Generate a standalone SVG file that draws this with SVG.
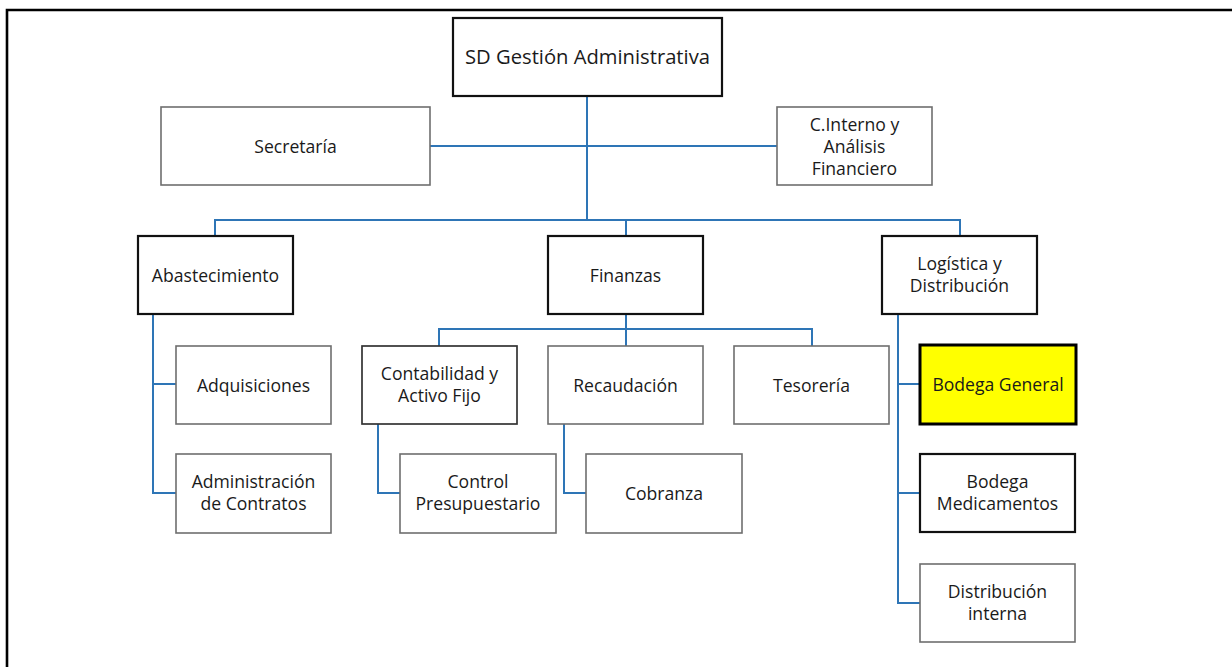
<svg xmlns="http://www.w3.org/2000/svg" width="1232" height="667" viewBox="0 0 1232 667">
<style>
text{font-family:"Open Sans","Liberation Sans",sans-serif;font-size:17.6px;fill:#1a1a1a;text-anchor:middle}
.t{font-size:20.2px}
.g{fill:#fff;stroke:#6e6e6e;stroke-width:1.6}
.k{fill:#fff;stroke:#111;stroke-width:2.2}
.d{fill:#fff;stroke:#333;stroke-width:1.7}
.y{fill:#ffff00;stroke:#000;stroke-width:3}
.c{fill:none;stroke:#2e75b6;stroke-width:2}
</style>
<rect width="1232" height="667" fill="#fff"/>
<path d="M5.7 10H1232M7 10V667" fill="none" stroke="#000" stroke-width="2.6"/>
<g id="connectors">
<path class="c" d="M587 96V220M430 146H777"/>
<path class="c" d="M215 236V220H960V236M626 220V236"/>
<path class="c" d="M153 314V493H176M153 384H176"/>
<path class="c" d="M626 314V346M439 346V329H812V346"/>
<path class="c" d="M378 424V493H400"/>
<path class="c" d="M564 424V493H586"/>
<path class="c" d="M898 314V603H920M898 384H919M898 493H920"/>
</g>
<g id="n-sd"><rect class="k" x="453" y="18" width="269" height="78"/><text class="t" x="587.5" y="64">SD Gestión Administrativa</text></g>
<g id="n-secretaria"><rect class="g" x="161" y="107" width="269" height="78"/><text x="295.5" y="153">Secretaría</text></g>
<g id="n-cinterno"><rect class="g" x="777" y="107" width="155" height="78"/><text x="854.5" y="131">C.Interno y</text><text x="854.5" y="153">Análisis</text><text x="854.5" y="175">Financiero</text></g>
<g id="n-abastecimiento"><rect class="k" x="138" y="236" width="155" height="78"/><text x="215.5" y="282">Abastecimiento</text></g>
<g id="n-finanzas"><rect class="k" x="548" y="236" width="155" height="78"/><text x="625.5" y="282">Finanzas</text></g>
<g id="n-logistica"><rect class="k" x="882" y="236" width="155" height="78"/><text x="959.5" y="270">Logística y</text><text x="959.5" y="292">Distribución</text></g>
<g id="n-adquisiciones"><rect class="g" x="176" y="346" width="155" height="78"/><text x="253.5" y="392">Adquisiciones</text></g>
<g id="n-admincontratos"><rect class="g" x="176" y="454" width="155" height="79"/><text x="253.5" y="488">Administración</text><text x="253.5" y="510">de Contratos</text></g>
<g id="n-contabilidad"><rect class="d" x="362" y="346" width="155" height="78"/><text x="439.5" y="380">Contabilidad y</text><text x="439.5" y="402">Activo Fijo</text></g>
<g id="n-recaudacion"><rect class="g" x="548" y="346" width="155" height="78"/><text x="625.5" y="392">Recaudación</text></g>
<g id="n-tesoreria"><rect class="g" x="734" y="346" width="155" height="78"/><text x="811.5" y="392">Tesorería</text></g>
<g id="n-control"><rect class="g" x="400" y="454" width="156" height="79"/><text x="478" y="488">Control</text><text x="478" y="510">Presupuestario</text></g>
<g id="n-cobranza"><rect class="g" x="586" y="454" width="156" height="79"/><text x="664" y="500">Cobranza</text></g>
<g id="n-bodegageneral"><rect class="y" x="920" y="345" width="156" height="79"/><text x="998" y="391">Bodega General</text></g>
<g id="n-bodegamed"><rect class="k" x="920" y="454" width="155" height="78"/><text x="997.5" y="488">Bodega</text><text x="997.5" y="510">Medicamentos</text></g>
<g id="n-distribucion"><rect class="g" x="920" y="564" width="155" height="78"/><text x="997.5" y="598">Distribución</text><text x="997.5" y="620">interna</text></g>
</svg>
